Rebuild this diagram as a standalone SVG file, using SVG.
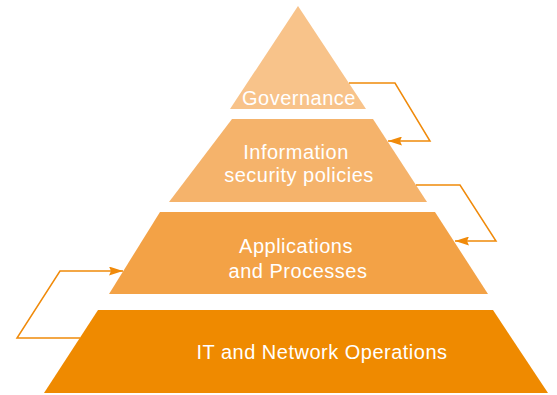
<svg xmlns="http://www.w3.org/2000/svg" width="557" height="395" viewBox="0 0 557 395">
  <style>
    .lbl { font-family: "Liberation Sans", Arial, sans-serif; font-size: 20px; letter-spacing: 0.5px; fill: #ffffff; text-anchor: middle; }
    .link { fill: none; stroke: #f08a0a; stroke-width: 1.5; stroke-linejoin: miter; }
  </style>
  <defs>
    <marker id="arrow" viewBox="0 0 14 9" refX="14" refY="4.5" markerWidth="14" markerHeight="9" markerUnits="userSpaceOnUse" orient="auto">
      <path d="M0,0 L14,4.5 L0,9 L2,4.5 Z" fill="#f08a0a"/>
    </marker>
  </defs>
  <rect width="557" height="395" fill="#ffffff"/>

  <!-- pyramid tiers, top to bottom -->
  <g id="governance">
    <path d="M298,6 L366,109 L230,109 Z" fill="#f8c38a"/>
    <text class="lbl" x="299" y="105">Governance</text>
  </g>
  <g id="security-policies">
    <path d="M232,119 L373,119 L427,202 L169,202 Z" fill="#f5b36b"/>
    <text class="lbl" x="296" y="159">Information</text>
    <text class="lbl" x="299" y="182">security policies</text>
  </g>
  <g id="applications">
    <path d="M160,212 L435,212 L488,294 L109,294 Z" fill="#f3a246"/>
    <text class="lbl" x="296" y="253">Applications</text>
    <text class="lbl" x="298" y="278">and Processes</text>
  </g>
  <g id="it-operations">
    <path d="M98,310 L493,310 L548,393 L44,393 Z" fill="#ef8a00"/>
    <text class="lbl" x="322" y="359">IT and Network Operations</text>
  </g>

  <!-- feedback connectors between tiers -->
  <g id="connectors">
    <path class="link" d="M349,83 L395,83 L430,141 L388,141" marker-end="url(#arrow)"/>
    <path class="link" d="M416,185 L460,185 L496,241 L455,241" marker-end="url(#arrow)"/>
    <path class="link" d="M80,338 L17,338 L60,271 L123,271" marker-end="url(#arrow)"/>
  </g>
</svg>
